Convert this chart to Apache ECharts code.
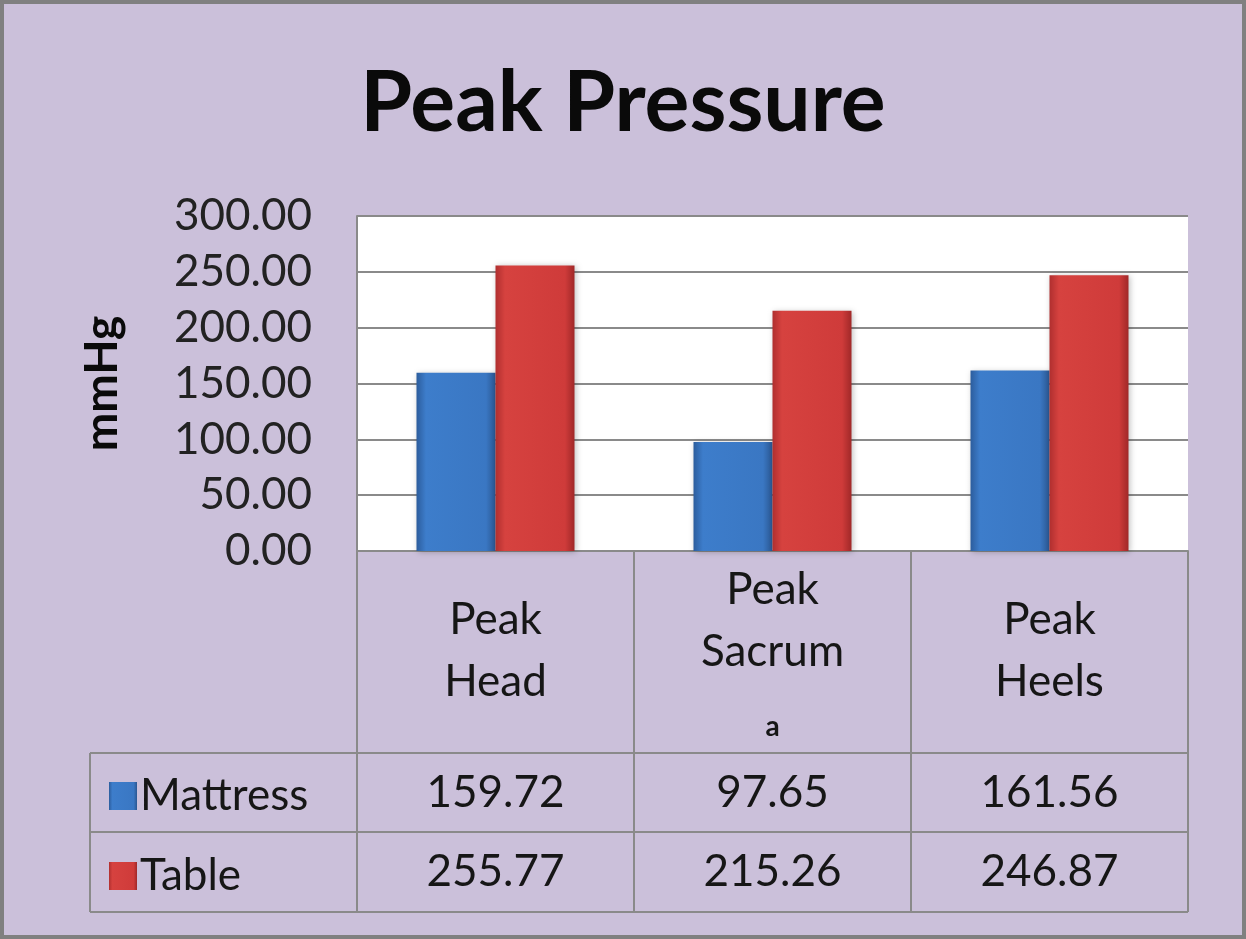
<!DOCTYPE html>
<html>
<head>
<meta charset="utf-8">
<script src="https://cdn.jsdelivr.net/npm/echarts@6/dist/echarts.min.js"></script>
<style>
html,body{margin:0;padding:0;background:#cbc0da;}
#c{width:1246px;height:939px;}
</style>
</head>
<body>
<div id="c"></div>
<script>
// ---- data ----
const categories = ['Peak Head', 'Peak Sacrum', 'Peak Heels'];
const categoryNotes = ['', 'a', ''];
const seriesNames = ['Mattress', 'Table'];
const mattress = [159.72, 97.65, 161.56];
const table = [255.77, 215.26, 246.87];
const yMin = 0, yMax = 300, yStep = 50;

// ---- layout ----
const W = 1246, H = 939;
const gridLeft = 357, gridRightX = 1188, gridTop = 216, axisY = 551;
const rowLines = [753, 832, 912];
const tableLeft = 90;
const lineColor = '#8a8a8a';
const textColor = '#161616';
const FONT = 'Lato, "Open Sans", sans-serif';

const chart = echarts.init(document.getElementById('c'), null, {renderer: 'canvas'});

function grad(c0, c1, c2, c3) {
  return new echarts.graphic.LinearGradient(0, 0, 1, 0, [
    {offset: 0, color: c0}, {offset: 0.12, color: c1},
    {offset: 0.88, color: c2}, {offset: 1, color: c3}
  ]);
}
const blueFill = grad('#2c5d9d', '#3d7dcb', '#3a77c3', '#2a5792');
const redFill = grad('#b02f2f', '#d6423f', '#cf3b3a', '#a02828');

const gfx = rowLines.map(y => ({
  type: 'line', shape: {x1: tableLeft, y1: y, x2: gridRightX, y2: y},
  style: {stroke: lineColor, lineWidth: 2}, silent: true
}));
gfx.push({
  type: 'line', shape: {x1: tableLeft, y1: rowLines[0], x2: tableLeft, y2: rowLines[2]},
  style: {stroke: lineColor, lineWidth: 2}, silent: true
});
gfx.push({
  type: 'rect', shape: {x: 2, y: 2, width: W - 4, height: H - 4},
  style: {fill: 'none', stroke: '#808080', lineWidth: 4}, silent: true, z: 100
});

const valueAxis = (vals, off) => ({
  type: 'category', data: categories, position: 'bottom', offset: off,
  axisLine: {show: false}, axisTick: {show: false}, splitLine: {show: false},
  axisLabel: {
    interval: 0, margin: 40, verticalAlign: 'middle',
    formatter: (v, i) => vals[i].toFixed(2),
    fontFamily: FONT, fontSize: 44, color: textColor
  }
});

const legendFor = (name, top) => ({
  data: [name], orient: 'vertical', left: 104, top: top,
  itemWidth: 28, itemHeight: 28, icon: 'rect', itemGap: 0,
  textStyle: {fontFamily: FONT, fontSize: 44, color: textColor, lineHeight: 50, padding: [0, 0, 4, -2]}
});

chart.setOption({
  backgroundColor: '#cbc0da',
  animation: false,
  title: {
    text: 'Peak Pressure', left: 'center', top: 57,
    textStyle: {fontFamily: FONT, fontWeight: 'bold', fontSize: 84, color: '#0a0a0a'}
  },
  legend: [legendFor(seriesNames[0], 792 - 28), legendFor(seriesNames[1], 872 - 28)],
  grid: {left: gridLeft, top: gridTop, right: W - gridRightX, bottom: H - axisY, backgroundColor: '#ffffff', show: true, borderWidth: 0},
  xAxis: [
    {
      type: 'category', data: categories, position: 'bottom',
      axisLine: {show: true, lineStyle: {color: lineColor, width: 2}},
      axisTick: {show: true, length: rowLines[2] - axisY, lineStyle: {color: lineColor, width: 2}},
      axisLabel: {
        interval: 0, margin: 8,
        formatter: (v, i) => {
          const words = v.split(' ').join('\n');
          return categoryNotes[i] ? words + '\n{n|' + categoryNotes[i] + '}' : '{sp| }\n' + words;
        },
        fontFamily: FONT, fontSize: 44, lineHeight: 62, color: textColor,
        rich: {
          n: {fontFamily: FONT, fontSize: 28, fontWeight: 'bold', lineHeight: 88, color: textColor},
          sp: {fontSize: 10, lineHeight: 30}
        }
      }
    },
    valueAxis(mattress, rowLines[0] - axisY),
    valueAxis(table, rowLines[1] - axisY)
  ],
  yAxis: {
    type: 'value', min: yMin, max: yMax, interval: yStep,
    name: 'mmHg', nameLocation: 'middle', nameRotate: 90, nameGap: 232,
    nameTextStyle: {fontFamily: FONT, fontWeight: 'bold', fontSize: 46, color: '#0a0a0a'},
    axisLine: {show: true, lineStyle: {color: lineColor, width: 2}},
    axisTick: {show: false},
    splitLine: {lineStyle: {color: lineColor, width: 2}},
    axisLabel: {
      margin: 45, formatter: v => v.toFixed(2),
      fontFamily: FONT, fontSize: 44, color: '#222'
    }
  },
  series: [
    {name: seriesNames[0], type: 'bar', data: mattress, barWidth: 79, barGap: '0%',
     itemStyle: {color: blueFill, shadowColor: 'rgba(0,0,0,0.25)', shadowBlur: 6, shadowOffsetX: 1, shadowOffsetY: 1}},
    {name: seriesNames[1], type: 'bar', data: table, barWidth: 79, barGap: '0%',
     itemStyle: {color: redFill, shadowColor: 'rgba(0,0,0,0.25)', shadowBlur: 6, shadowOffsetX: 1, shadowOffsetY: 1}}
  ],
  graphic: gfx
});
</script>
</body>
</html>
